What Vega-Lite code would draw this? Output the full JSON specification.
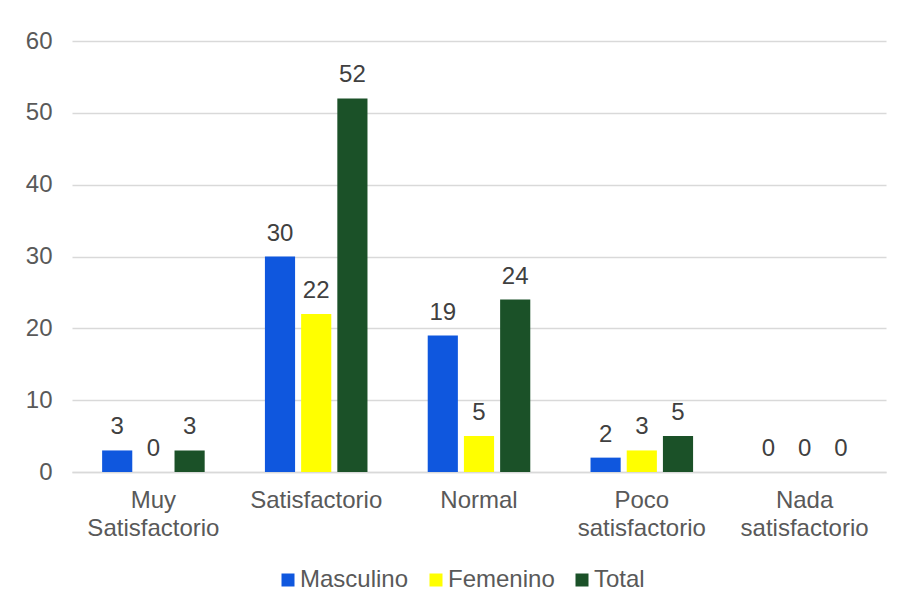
{
  "$schema": "https://vega.github.io/schema/vega-lite/v6.json",
  "width": 814,
  "height": 431,
  "autosize": "none",
  "padding": {"left": 72, "top": 41, "right": 15, "bottom": 134},
  "background": "white",
  "config": {
    "font": "Liberation Sans",
    "view": {"stroke": null}
  },
  "data": {
    "values": [
      {"nivel": "Muy Satisfactorio", "grupo": "Masculino", "valor": 3},
      {"nivel": "Muy Satisfactorio", "grupo": "Femenino", "valor": 0},
      {"nivel": "Muy Satisfactorio", "grupo": "Total", "valor": 3},
      {"nivel": "Satisfactorio", "grupo": "Masculino", "valor": 30},
      {"nivel": "Satisfactorio", "grupo": "Femenino", "valor": 22},
      {"nivel": "Satisfactorio", "grupo": "Total", "valor": 52},
      {"nivel": "Normal", "grupo": "Masculino", "valor": 19},
      {"nivel": "Normal", "grupo": "Femenino", "valor": 5},
      {"nivel": "Normal", "grupo": "Total", "valor": 24},
      {"nivel": "Poco satisfactorio", "grupo": "Masculino", "valor": 2},
      {"nivel": "Poco satisfactorio", "grupo": "Femenino", "valor": 3},
      {"nivel": "Poco satisfactorio", "grupo": "Total", "valor": 5},
      {"nivel": "Nada satisfactorio", "grupo": "Masculino", "valor": 0},
      {"nivel": "Nada satisfactorio", "grupo": "Femenino", "valor": 0},
      {"nivel": "Nada satisfactorio", "grupo": "Total", "valor": 0}
    ]
  },
  "encoding": {
    "x": {
      "field": "nivel",
      "type": "nominal",
      "sort": ["Muy Satisfactorio", "Satisfactorio", "Normal", "Poco satisfactorio", "Nada satisfactorio"],
      "scale": {"paddingInner": 0.37, "paddingOuter": 0.185},
      "axis": {
        "title": null,
        "labelAngle": 0,
        "labelExpr": "split(datum.label, ' ')",
        "labelFontSize": 24,
        "labelColor": "#595959",
        "labelLineHeight": 28,
        "labelPadding": 16,
        "ticks": false,
        "domainColor": "#d9d9d9",
        "domainWidth": 1.3
      }
    },
    "xOffset": {
      "field": "grupo",
      "type": "nominal",
      "sort": ["Masculino", "Femenino", "Total"],
      "scale": {"paddingInner": 0.167, "paddingOuter": 0}
    },
    "y": {
      "field": "valor",
      "type": "quantitative",
      "scale": {"domain": [0, 60], "nice": false},
      "axis": {
        "title": null,
        "values": [0, 10, 20, 30, 40, 50, 60],
        "domain": false,
        "ticks": false,
        "labelFontSize": 24,
        "labelColor": "#595959",
        "labelPadding": 20,
        "gridColor": "#d9d9d9",
        "gridWidth": 1.3
      }
    }
  },
  "layer": [
    {
      "mark": {"type": "bar"},
      "encoding": {
        "color": {
          "field": "grupo",
          "type": "nominal",
          "sort": ["Masculino", "Femenino", "Total"],
          "scale": {
            "domain": ["Masculino", "Femenino", "Total"],
            "range": ["#0f57de", "#ffff00", "#1b5128"]
          },
          "legend": {
            "title": null,
            "orient": "none",
            "direction": "horizontal",
            "legendX": 204,
            "legendY": 527,
            "symbolType": "square",
            "symbolSize": 169,
            "symbolStrokeWidth": 0,
            "labelFontSize": 24,
            "labelColor": "#595959",
            "labelOffset": 0,
            "columnPadding": 15
          }
        }
      }
    },
    {
      "mark": {
        "type": "text",
        "baseline": "alphabetic",
        "dy": -16,
        "fontSize": 24,
        "color": "#404040"
      },
      "encoding": {
        "text": {"field": "valor", "type": "quantitative"}
      }
    }
  ]
}
